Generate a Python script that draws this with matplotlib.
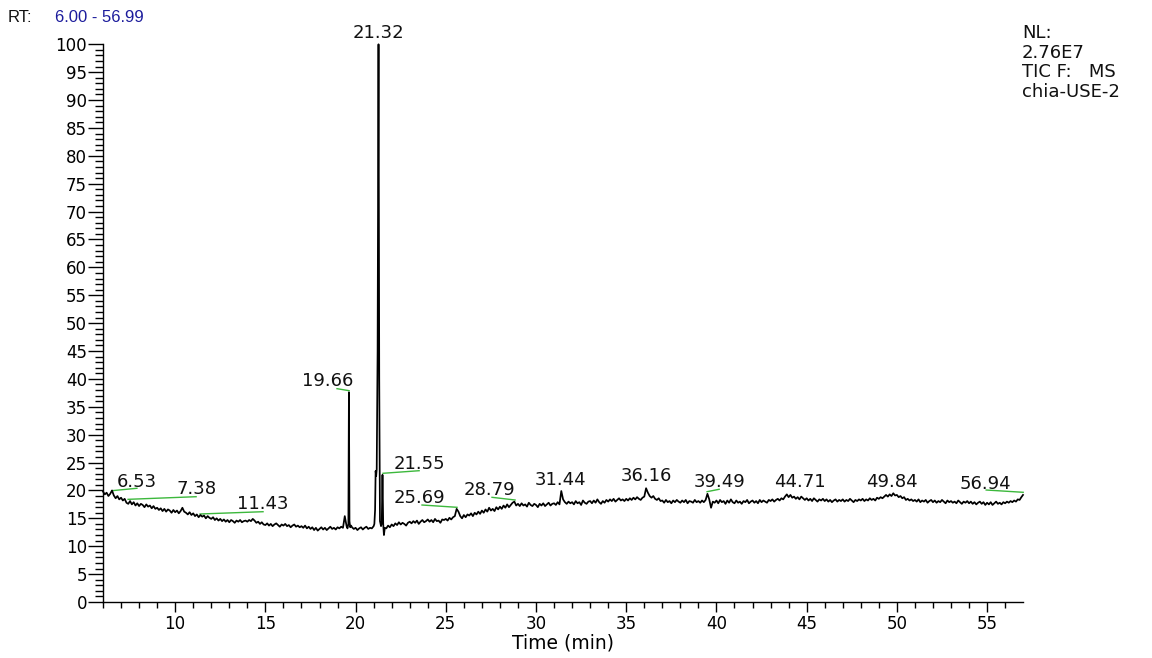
import numpy as np
import matplotlib
matplotlib.use("Agg")
import matplotlib.pyplot as plt
from matplotlib.ticker import MultipleLocator

plt.rcParams['font.family'] = ['DejaVu Sans']

# ---------------- data (relative abundance, %) ----------------
# segment 1: 6.0 .. 19.5 min, every 0.1 min
seg1_start, seg1_step = 6.0, 0.1
seg1_vals = [
    19.8, 19.3, 19.6, 19.0, 19.4, 20.0, 19.1, 18.6, 19.0, 18.4,
    18.7, 18.2, 18.5, 17.8, 17.6, 18.1, 17.5, 17.9, 17.3, 17.7,
    17.2, 17.6, 17.4, 17.0, 17.5, 17.1, 17.3, 16.8, 17.2, 16.7,
    16.9, 16.5, 16.8, 16.3, 16.7, 16.2, 16.6, 16.4, 16.0, 16.5,
    16.1, 16.4, 15.9, 16.3, 16.9, 16.2, 16.0, 15.7, 16.1, 15.6,
    15.9, 15.4, 15.7, 15.2, 15.6, 15.3, 15.5, 15.0, 15.4, 15.1,
    14.9, 15.2, 14.7, 15.0, 14.6, 14.9, 14.5, 14.8, 14.4, 14.7,
    14.3, 14.7, 14.5, 14.2, 14.6, 14.4, 14.7, 14.3, 14.5, 14.6,
    14.4, 14.7, 14.5, 14.9, 14.6, 14.2, 14.4, 14.0, 14.3, 13.9,
    13.8, 14.1, 13.7, 14.0, 13.6, 13.9, 14.1, 13.8, 13.5, 13.9,
    13.7, 14.0, 13.6, 13.8, 13.4, 13.7, 13.9, 13.5, 13.7, 13.4,
    13.6, 13.3, 13.7, 13.2, 13.5, 13.1, 13.4, 12.9, 13.3, 12.8,
    13.1, 13.4, 13.0, 13.3, 12.9, 13.2, 13.5, 13.1, 13.3, 13.0,
    13.4, 13.2, 13.5, 13.3, 15.4, 13.6,
]
# peak at 19.66
pk1_rt = [19.55, 19.60, 19.63, 19.66, 19.70, 19.75]
pk1_vals = [13.2, 14.0, 37.6, 14.5, 13.4, 13.7]
# segment 2: 19.8 .. 21.0 min
seg2_start, seg2_step = 19.8, 0.1
seg2_vals = [13.4, 13.1, 13.3, 12.9, 13.2, 13.4, 13.0, 13.3, 13.5, 13.1, 13.3, 13.2, 13.6]
# main peak cluster 21.32 / 21.55
pk2_rt = [21.04, 21.08, 21.11, 21.14, 21.17, 21.22, 21.27, 21.31, 21.35,
          21.41, 21.45, 21.49, 21.53, 21.57, 21.62]
pk2_vals = [14.0, 16.5, 23.5, 22.6, 23.8, 45.0, 100.0, 40.0, 14.5,
            13.6, 14.2, 22.8, 14.0, 12.0, 13.3]
# segment 3: 21.7 .. 56.9 min
seg3_start, seg3_step = 21.7, 0.1
seg3_vals = [
    13.2, 13.7, 13.4,
    13.9, 13.6, 14.1, 13.8, 14.3, 13.9, 14.2, 14.0, 13.7, 14.2,
    14.4, 14.1, 14.5, 14.2, 14.6, 14.0, 14.4, 14.7, 14.3, 14.5,
    14.8, 14.4, 14.7, 14.3, 14.9, 14.5, 14.6, 14.2, 14.8, 14.7,
    14.9, 14.6, 15.1, 14.8, 15.2, 15.4, 16.7, 16.2, 15.4, 15.0,
    15.6, 15.2, 15.7, 15.5, 15.9, 15.4, 16.0, 15.7, 16.2, 15.8,
    16.4, 16.0, 16.6, 16.2, 16.9, 16.4, 16.7, 16.3, 17.0, 16.6,
    17.1, 16.7, 17.3, 16.9, 17.5, 17.0, 17.4, 17.8, 18.0, 17.3,
    17.6, 17.2, 17.7, 17.3, 17.5, 17.1, 17.8, 17.4, 17.2, 17.6,
    17.4, 17.0, 17.6, 17.3, 17.7, 17.2, 17.5, 17.8, 17.3, 17.6,
    17.7, 17.4, 17.9, 17.5, 19.9, 18.4, 17.9, 17.6, 18.0, 17.7,
    17.9, 17.5, 18.1, 17.7, 17.9, 17.4, 18.2, 17.8, 17.6, 18.0,
    18.1, 17.7, 18.2, 17.8, 18.4, 17.9, 17.6, 18.1, 17.8, 18.3,
    18.0, 18.4, 18.1, 18.5, 18.0, 18.3, 18.6, 18.2, 18.4, 18.1,
    18.5, 18.2, 18.6, 18.3, 18.7, 18.4, 18.8, 18.5, 18.3, 18.7,
    18.9, 20.4, 19.6, 19.0, 18.7, 19.0, 18.5, 18.3, 18.6, 18.1,
    18.2, 17.8, 18.3, 17.9, 18.1, 17.7, 18.2, 17.9, 18.3, 18.0,
    17.8, 18.2, 17.9, 18.3, 17.7, 18.1, 18.0, 17.8, 18.3, 17.9,
    18.1, 17.8, 18.2, 17.9, 18.3, 19.4, 18.4, 16.9, 18.0, 17.8,
    18.2, 17.7, 18.3, 17.9, 18.1, 17.6, 18.2, 17.8, 18.4, 17.9,
    17.7, 18.2, 17.8, 18.0, 17.6, 18.1, 17.9, 18.3, 17.7, 18.0,
    18.2, 17.8, 18.1, 17.7, 18.3, 17.9, 18.2, 18.0, 17.8, 18.3,
    18.1, 18.4, 18.0, 18.3, 18.5, 18.2, 18.6, 18.4, 18.9, 19.3,
    18.8, 19.2, 18.7, 18.9, 18.5, 18.8, 18.4, 18.9, 18.6, 18.3,
    18.6, 18.2, 18.5, 18.1, 18.6, 18.3, 18.0, 18.4, 18.2, 18.5,
    18.1, 18.4, 18.0, 18.3, 17.9, 18.2, 18.4, 18.0, 18.3, 18.1,
    18.4, 18.0, 18.3, 18.1, 18.5, 18.2, 17.9, 18.3, 18.1, 18.4,
    18.2, 18.5, 18.1, 18.4, 18.2, 18.6, 18.3, 18.5, 18.2, 18.7,
    18.5, 18.8, 18.6, 18.9, 19.2, 18.9, 19.3, 19.0, 19.5, 19.1,
    19.2, 18.8, 19.0, 18.6, 18.8, 18.3, 18.5, 18.2, 18.4, 18.1,
    18.3, 18.0, 18.4, 17.9, 18.2, 18.0, 18.3, 17.8, 18.1, 18.3,
    17.9, 18.2, 17.8, 18.1, 17.9, 18.3, 18.0, 17.7, 18.2, 17.9,
    18.1, 17.8, 18.0, 17.7, 18.2, 17.9, 17.6, 18.0, 17.8, 18.1,
    17.7, 18.0, 17.6, 17.9, 17.5, 17.8, 18.0, 17.6, 17.9, 17.4,
    17.8, 17.5, 17.9, 17.4, 17.7, 18.0, 17.6, 17.8, 17.5, 17.9,
    17.7, 18.0, 17.8, 18.1, 17.9, 18.2, 18.0, 18.4, 18.3, 18.8,
]
end_rt = [56.99]
end_vals = [19.2]

# peak labels
label_text = ["6.53", "7.38", "11.43", "19.66", "21.32", "21.55", "25.69",
              "28.79", "31.44", "36.16", "39.49", "44.71", "49.84", "56.94"]
label_x = [7.88, 11.16, 14.87, 18.47, 21.24, 23.52, 23.52,
           27.40, 31.33, 36.10, 40.15, 44.64, 49.74, 54.89]
label_y = [21.5, 20.3, 17.6, 39.6, 102.0, 24.7, 18.65,
           20.1, 21.9, 22.6, 21.5, 21.5, 21.5, 21.2]
# green label leader lines (x0, y0, x1, y1)
leader_x0 = [6.50, 7.39, 11.38, 18.97, 21.52, 23.68, 27.56, 39.48, 54.95]
leader_y0 = [19.96, 18.41, 15.78, 38.25, 23.08, 17.39, 18.77, 19.78, 20.08]
leader_x1 = [7.88, 11.16, 14.87, 19.64, 23.52, 25.62, 28.84, 40.15, 57.0]
leader_y1 = [20.39, 18.88, 16.19, 37.89, 23.54, 16.98, 18.29, 20.21, 19.67]

x_min, x_max = 6.00, 56.99
header_info = ["NL:", "2.76E7", "TIC F:   MS", "chia-USE-2"]

# ---------------- assemble trace ----------------
def seg_times(start, step, vals):
    return start + step * np.arange(len(vals))

rt = np.concatenate([seg_times(seg1_start, seg1_step, seg1_vals), pk1_rt,
                     seg_times(seg2_start, seg2_step, seg2_vals), pk2_rt,
                     seg_times(seg3_start, seg3_step, seg3_vals), end_rt])
ab = np.concatenate([seg1_vals, pk1_vals, seg2_vals, pk2_vals, seg3_vals, end_vals])

# ---------------- figure ----------------
fig = plt.figure(figsize=(11.52, 6.58), dpi=100)
ax = fig.add_axes([103 / 1152, 56 / 658, 920 / 1152, 557.7 / 658])

for x0, y0, x1, y1 in zip(leader_x0, leader_y0, leader_x1, leader_y1):
    ax.plot([x0, x1], [y0, y1], color='#3cb83c', lw=1.0, clip_on=False, zorder=2)

ax.plot(rt, ab, color='black', lw=1.25, clip_on=False, zorder=3)

for txt, lx, ly in zip(label_text, label_x, label_y):
    ax.text(lx, ly, txt, ha='center', va='center', fontsize=13, color='#111111',
            clip_on=False, zorder=4)

ax.set_xlim(x_min, x_max)
ax.set_ylim(0, 100)
ax.xaxis.set_major_locator(MultipleLocator(5))
ax.xaxis.set_minor_locator(MultipleLocator(1))
ax.yaxis.set_major_locator(MultipleLocator(5))
ax.yaxis.set_minor_locator(MultipleLocator(1))
ax.tick_params(axis='x', which='major', length=7.2, width=1, pad=2.5, labelsize=12, direction='out')
ax.tick_params(axis='x', which='minor', length=4.3, width=1, direction='out')
ax.tick_params(axis='y', which='major', length=10.8, width=1, pad=0.8, labelsize=12, direction='out')
ax.tick_params(axis='y', which='minor', length=5.8, width=1, direction='out')

xt = [v for v in range(10, 56, 5)]
ax.set_xticks(xt)
ax.set_xticklabels([str(v) for v in xt])

for s in ['top', 'right']:
    ax.spines[s].set_visible(False)
for s in ['left', 'bottom']:
    ax.spines[s].set_linewidth(1)
    ax.spines[s].set_color('black')
ax.set_facecolor('none')

ax.set_xlabel("Time (min)", fontsize=13.5, labelpad=0)

# header texts
fig.text(8 / 1152, 1 - 17 / 658, "RT:", fontsize=12, ha='left', va='center',
         color='#111111', family='Liberation Sans')
fig.text(55 / 1152, 1 - 17 / 658, "6.00 - 56.99", fontsize=12, ha='left', va='center',
         color='#1c1c9c', family='Liberation Sans')
for i, line in enumerate(header_info):
    fig.text(1022 / 1152, 1 - (33 + 19.7 * i) / 658, line, fontsize=13,
             ha='left', va='center', color='#111111')

fig.savefig("out.png", dpi=100)
